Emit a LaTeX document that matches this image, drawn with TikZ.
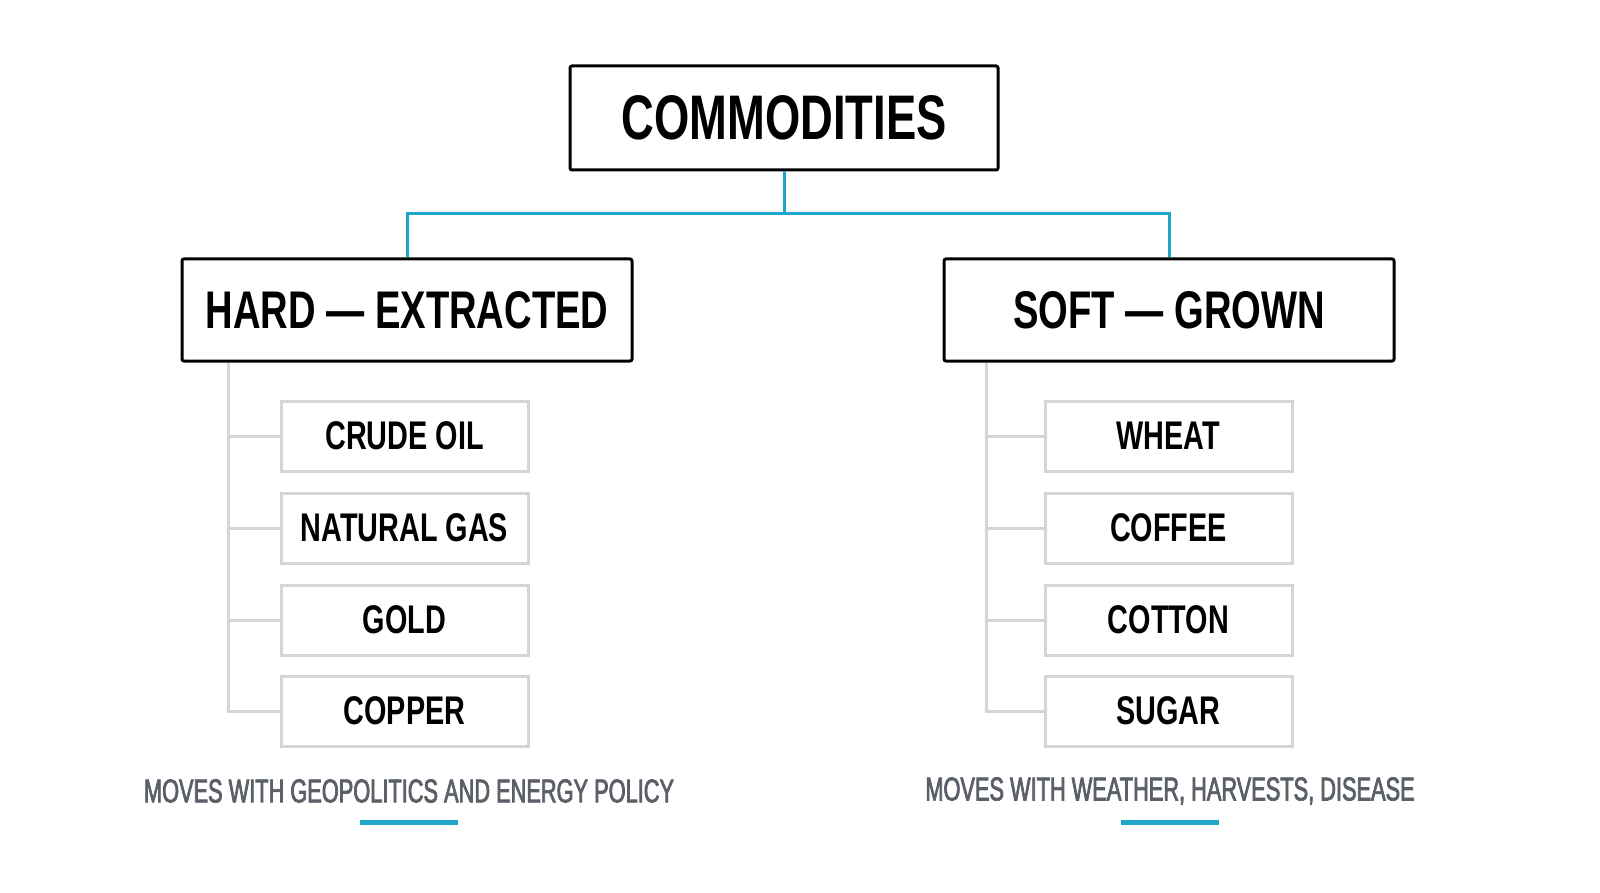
\documentclass[tikz,border=0pt]{standalone}
\usepackage{fontspec}
\newfontfamily\condb{Liberation Sans Bold}[FakeStretch=0.72]
\newfontfamily\condm{Liberation Sans}[FakeStretch=0.66,FakeBold=2.2]
\definecolor{teal1}{HTML}{1FA5C8}
\definecolor{gray1}{HTML}{D3D6D9}
\definecolor{capgray}{HTML}{5B6068}
\tikzset{
  topbox/.style={draw=black, line width=3pt, rounded corners=2pt, fill=white, minimum width=428pt, minimum height=104pt, inner sep=0pt, font=\condb\fontsize{63}{63}\selectfont},
  midbox/.style={draw=black, line width=3pt, rounded corners=2pt, fill=white, minimum width=450pt, minimum height=102pt, inner sep=0pt, font=\condb\fontsize{53}{53}\selectfont},
  itembox/.style={draw=gray1, line width=3pt, fill=white, minimum width=247pt, minimum height=70pt, inner sep=0pt, font=\condb\fontsize{40}{40}\selectfont},
  tealline/.style={draw=teal1, line width=3pt},
  grayline/.style={draw=gray1, line width=3pt},
  caption/.style={text=capgray, inner sep=0pt, font=\condm\fontsize{33}{33}\selectfont},
  bar/.style={fill=teal1, minimum width=98pt, minimum height=5pt, inner sep=0pt}
}
\begin{document}
\begin{tikzpicture}[x=1pt,y=-1pt]
\useasboundingbox[fill=white] (0,0) rectangle (1600,893);
\node[topbox] (top) at (784,118) {COMMODITIES};
\node[midbox] (hard) at (407,310) {HARD — EXTRACTED};
\node[midbox] (soft) at (1169,310) {SOFT — GROWN};
\coordinate (j) at (784,214);
\draw[tealline] (top.south) -- (j) -| (hard.north);
\draw[tealline] (j) -| (soft.north);
% items
\node[itembox] (l1) at (404.5,436) {CRUDE OIL};
\node[itembox] (l2) at (404.5,528) {NATURAL GAS};
\node[itembox] (l3) at (404.5,620) {GOLD};
\node[itembox] (l4) at (404.5,711) {COPPER};
\node[itembox] (r1) at (1168.5,436) {WHEAT};
\node[itembox] (r2) at (1168.5,528) {COFFEE};
\node[itembox] (r3) at (1168.5,620) {COTTON};
\node[itembox] (r4) at (1168.5,711) {SUGAR};
\coordinate (hl) at ([xshift=48pt]hard.south west);
\coordinate (sl) at ([xshift=44pt]soft.south west);
\foreach \n in {l1,l2,l3,l4}{\draw[grayline] (hl) |- (\n.west);}
\foreach \n in {r1,r2,r3,r4}{\draw[grayline] (sl) |- (\n.west);}
\node[caption] (capl) at (409,791) {MOVES WITH GEOPOLITICS AND ENERGY POLICY};
\node[caption] (capr) at (1170,791) {MOVES WITH WEATHER, HARVESTS, DISEASE};
\node[bar] (barl) at (409,822) {};
\node[bar] (barr) at (1170,822) {};
\end{tikzpicture}
\end{document}
